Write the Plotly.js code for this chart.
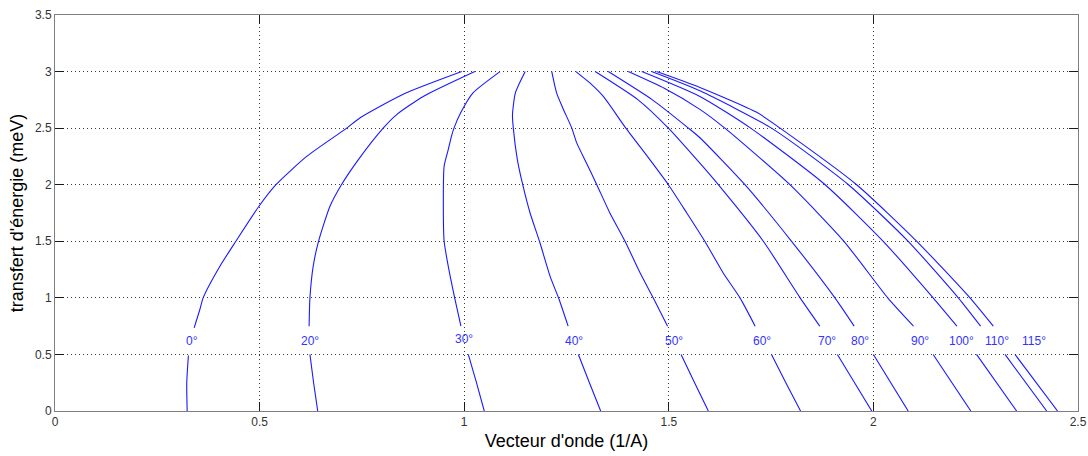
<!DOCTYPE html>
<html>
<head>
<meta charset="utf-8">
<script src="https://cdn.plot.ly/plotly-3.0.1.min.js"></script>
<style>html,body{margin:0;padding:0;background:#fff;}#chart{width:1088px;height:456px;}</style>
</head>
<body>
<div id="chart"></div>
<script>
// Scattering angle labels
const angleLabels = ['0°','20°','30°','40°','50°','60°','70°','80°','90°','100°','110°','115°'];

// Each curve: wave vector Q (1/A) and energy transfer E (meV); null = break where the label sits
const Q0   = [0.323,0.322,0.326,null,0.340,0.354,0.362,0.403,0.442,0.4985,0.540,0.615,0.713,0.745,0.851,0.994];
const E0   = [0,0.25,0.49,null,0.735,0.897,1.0,1.28,1.5,1.81,2.0,2.25,2.5,2.59,2.80,3.0];
const Q20  = [0.642,0.632,0.623,null,0.621,0.623,0.631,0.644,0.672,0.700,0.741,0.802,0.835,0.900,1.026];
const E20  = [0,0.25,0.5,null,0.75,1.0,1.28,1.5,1.81,2.0,2.22,2.5,2.62,2.78,3.0];
const Q30  = [1.049,1.030,1.010,null,0.992,0.9775,0.961,0.951,0.949,0.951,0.961,0.969,0.975,0.992,1.021,1.0875];
const E30  = [0,0.25,0.5,null,0.75,0.986,1.28,1.5,1.81,2.165,2.31,2.43,2.5,2.64,2.81,3.0];
const Q40  = [1.3335,1.306,1.279,null,1.254,1.232,1.210,1.184,1.161,1.143,1.130,1.120,1.118,1.125,1.149];
const E40  = [0,0.25,0.5,null,0.75,0.986,1.19,1.5,1.75,2.0,2.22,2.5,2.62,2.81,3.0];
const Q50  = [1.5966,1.563,1.530,null,1.497,1.464,1.430,1.393,1.356,1.324,1.299,1.275,1.263,1.242,1.226,1.214];
const E50  = [0,0.25,0.5,null,0.75,0.986,1.22,1.5,1.75,2.0,2.19,2.37,2.5,2.67,2.81,3.0];
const Q60  = [1.822,1.786,1.751,null,1.711,1.674,1.633,1.588,1.544,1.499,1.454,1.395,1.340,1.307,1.273];
const E60  = [0,0.25,0.5,null,0.75,1.0,1.22,1.5,1.75,2.0,2.22,2.5,2.78,2.90,3.0];
const Q70  = [1.996,1.912,null,1.869,1.821,1.731,1.621,1.576,1.499,1.425,1.320];
const E70  = [0,0.5,null,0.75,1.0,1.5,2.0,2.19,2.5,2.75,3.0];
const Q80  = [2.085,2.000,null,1.953,1.906,1.800,1.686,1.576,1.548,1.460,1.352];
const E80  = [0,0.5,null,0.75,1.0,1.5,2.0,2.415,2.5,2.75,3.0];
const Q90  = [2.238,2.146,null,2.098,2.035,1.928,1.796,1.637,1.576,1.490,1.401];
const E90  = [0,0.5,null,0.75,1.0,1.5,2.0,2.5,2.666,2.85,3.0];
const Q100 = [2.350,2.252,null,2.204,2.146,2.024,1.882,1.700,1.576,1.434];
const E100 = [0,0.5,null,0.75,1.0,1.5,2.0,2.5,2.78,3.0];
const Q110 = [2.4235,2.3216,null,2.262,2.2075,2.085,1.939,1.751,1.576,1.458];
const E110 = [0,0.5,null,0.75,1.0,1.5,2.0,2.5,2.83,3.0];
const Q115 = [2.450,2.346,null,2.293,2.236,2.106,1.959,1.772,1.715,1.576,1.470];
const E115 = [0,0.5,null,0.75,1.0,1.5,2.0,2.5,2.64,2.86,3.0];

// Label anchor positions (data units)
const labelQ = [0.334,0.623,1.000,1.268,1.513,1.7285,1.886,1.967,2.114,2.216,2.301,2.392];
const labelE = [0.617,0.617,0.638,0.617,0.617,0.617,0.617,0.617,0.617,0.617,0.617,0.617];

// Axis ticks
const xTicks = [0,0.5,1,1.5,2,2.5];
const xTickText = ['0','0.5','1','1.5','2','2.5'];
const yTicks = [0,0.5,1,1.5,2,2.5,3,3.5];
const yTickText = ['0','0.5','1','1.5','2','2.5','3','3.5'];

const curveQ = [Q0,Q20,Q30,Q40,Q50,Q60,Q70,Q80,Q90,Q100,Q110,Q115];
const curveE = [E0,E20,E30,E40,E50,E60,E70,E80,E90,E100,E110,E115];

const traces = curveQ.map((q,i) => ({
  x: q, y: curveE[i], type: 'scatter', mode: 'lines',
  line: {color: '#1a1aff', width: 1.1, shape: 'spline', smoothing: 0.6},
  connectgaps: false, name: angleLabels[i], hoverinfo: 'x+y+name'
}));

const annotations = angleLabels.map((t,i) => ({
  x: labelQ[i], y: labelE[i], xref: 'x', yref: 'y', text: t, showarrow: false,
  font: {family: 'Liberation Sans, Arial, sans-serif', size: 12, color: '#3333ff'},
  xanchor: 'center', yanchor: 'middle'
}));

const axisCommon = {
  showline: true, linecolor: '#7f7f7f', linewidth: 1, mirror: 'ticks',
  ticks: 'inside', ticklen: 9, tickcolor: '#1a1a1a', tickwidth: 1,
  showgrid: true, gridcolor: '#3a3a3a', griddash: '1px,3px', gridwidth: 1,
  zeroline: false, tickmode: 'array',
  tickfont: {family: 'Liberation Sans, Arial, sans-serif', size: 12, color: '#333'}
};

const layout = {
  width: 1088, height: 456,
  margin: {l: 55, r: 10, t: 15, b: 45},
  paper_bgcolor: '#ffffff', plot_bgcolor: '#ffffff',
  showlegend: false,
  xaxis: Object.assign({}, axisCommon, {
    range: [0, 2.5], tickvals: xTicks, ticktext: xTickText,
    title: {text: "Vecteur d'onde (1/A)", font: {family: 'Liberation Sans, Arial, sans-serif', size: 18, color: '#000'}, standoff: 5}
  }),
  yaxis: Object.assign({}, axisCommon, {
    range: [0, 3.5], tickvals: yTicks, ticktext: yTickText,
    title: {text: "transfert d'énergie (meV)", font: {family: 'Liberation Sans, Arial, sans-serif', size: 18, color: '#000'}, standoff: 6}
  }),
  annotations: annotations
};

Plotly.newPlot('chart', traces, layout, {displayModeBar: false, staticPlot: true});
</script>
</body>
</html>
